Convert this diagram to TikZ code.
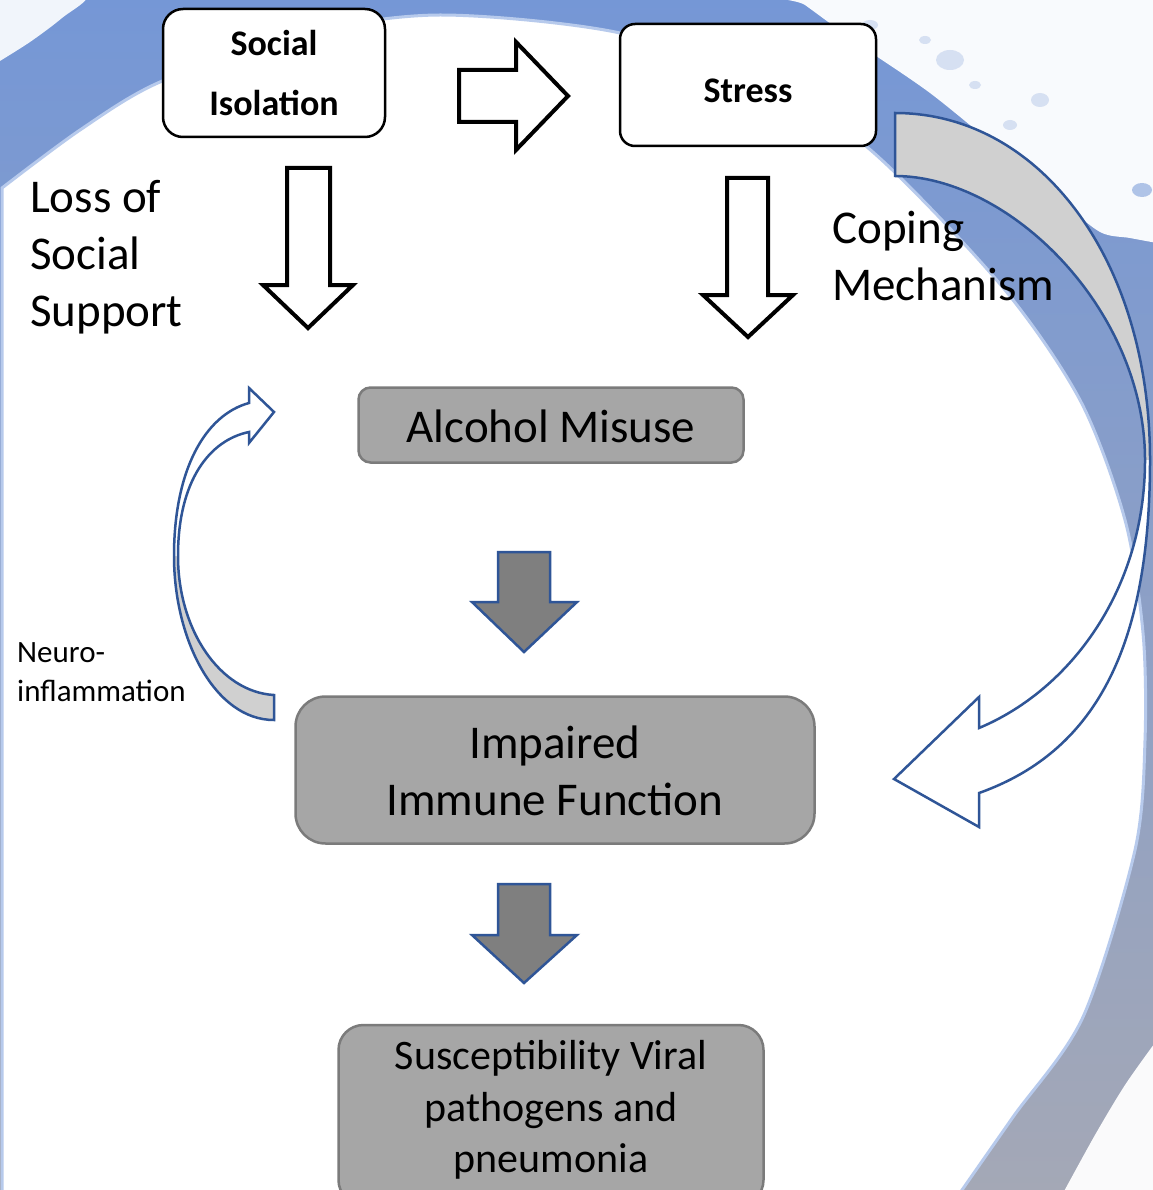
\documentclass[tikz,border=0pt]{standalone}
\usepackage{fontspec}
\setmainfont{Carlito}
\definecolor{bandtop}{HTML}{7597D6}
\definecolor{bandbot}{HTML}{A4A8B6}
\definecolor{paleedge}{HTML}{B7CAEC}
\definecolor{speck}{HTML}{D6E0F2}
\definecolor{boxgray}{HTML}{A6A6A6}
\definecolor{boxedge}{HTML}{7B7B7B}
\definecolor{arrowgray}{HTML}{7F7F7F}
\definecolor{arrowblue}{HTML}{2F5597}
\definecolor{backgray}{HTML}{D0D0D0}
\begin{document}
\begin{tikzpicture}[x=1pt,y=-1pt,
  whitebox/.style={draw=black, line width=2.5pt, fill=white, inner sep=0pt},
  graybox/.style={draw=boxedge, line width=2.5pt, fill=boxgray, inner sep=0pt},
  hollowarrow/.style={draw=black, fill=white, line width=4pt, line join=miter},
  grayarrow/.style={draw=arrowblue, fill=arrowgray, line width=2.5pt, line join=miter},
  curvedline/.style={draw=arrowblue, line width=2.5pt, line join=miter},
  bigtext/.style={font=\fontsize{47}{57}\selectfont, align=left, inner sep=0pt},
  boldtext/.style={font=\fontsize{36}{60}\selectfont\bfseries, align=center, inner sep=0pt},
  boxtext/.style={font=\fontsize{47}{57}\selectfont, align=center, inner sep=0pt},
  smalltext/.style={font=\fontsize{31}{39}\selectfont, align=left, inner sep=0pt}]
\useasboundingbox (0,0) rectangle (1152,1190);
% ---------- background ring ----------
\shade[top color=bandtop, bottom color=bandbot] (-5,-5) rectangle (1157,1195);
% top-right pale splotch
\fill[white!95!bandtop] plot[smooth] coordinates {(1157,-5) (790,-5) (805,5) (860,45) (930,93) (1000,150) (1060,200) (1100,232) (1130,238) (1157,243)} -- cycle;
\fill[speck] (950,60) ellipse (14 and 10);
\fill[speck] (925,40) ellipse (6 and 4);
\fill[speck] (1040,100) ellipse (9 and 7);
\fill[speck] (1010,125) ellipse (7 and 5);
\fill[speck] (975,85) ellipse (6 and 4);
\fill[speck] (870,25) ellipse (8 and 5);
\fill[speck!60!bandtop] (1142,190) ellipse (10 and 7);
% top-left pale splotch
\fill[white!90!bandtop] plot[smooth] coordinates {(-5,-5) (85,-5) (62,18) (30,42) (-5,64)} -- cycle;
% bottom-right pale splotch
\fill[white!94!bandbot] plot[smooth] coordinates {(1157,1040) (1125,1085) (1095,1135) (1062,1195)} -- (1157,1195) -- cycle;
% inner white disc
\filldraw[fill=white, draw=paleedge, line width=3pt]
  (2,1200) -- plot[smooth] coordinates {(2,188) (80,130) (160,82) (300,34) (440,15) (620,33) (760,85) (867,147) (1000,284) (1080,400) (1125,520) (1143,633) (1145,740) (1135,850) (1083,1017) (1013,1117) (955,1200)} -- cycle;
% ---------- boxes ----------
\node[whitebox, rounded corners=20pt, minimum width=222pt, minimum height=128pt] (iso) at (274,73) {};
\node[boldtext] (isotext) at (274,73) {Social\\Isolation};
\node[whitebox, rounded corners=15pt, minimum width=256pt, minimum height=122pt] (stress) at (748,85) {};
\node[boldtext] (stresstext) at (748,91) {Stress};
\node[graybox, rounded corners=12pt, minimum width=385pt, minimum height=75pt] (alc) at (551,425) {};
\node[boxtext] (alctext) at (551,426) {Alcohol Misuse};
\node[graybox, rounded corners=30pt, minimum width=519pt, minimum height=147pt] (imm) at (555,770) {};
\node[boxtext] (immtext) at (555,771) {Impaired\\Immune Function};
\node[graybox, rounded corners=25pt, minimum width=425pt, minimum height=180pt] (sus) at (551,1115) {};
\node[boxtext, font=\fontsize{42}{51.5}\selectfont] (sustext) at (551,1110) {Susceptibility Viral\\pathogens and\\pneumonia};
% ---------- labels ----------
\node[bigtext, anchor=west] (loss) at (30,257) {Loss of\\Social\\Support};
\node[bigtext, anchor=west] (coping) at (832,256) {Coping\\Mechanism};
\node[smalltext, anchor=west] (neuro) at (17,672) {Neuro-\\inflammation};
% ---------- hollow block arrows ----------
\draw[hollowarrow] (459,70) -- (516,70) -- (516,42) -- (568,96) -- (516,150) -- (516,122) -- (459,122) -- cycle;
\draw[hollowarrow] (287,168) -- (330,168) -- (330,285) -- (353,285) -- (308,328) -- (263,285) -- (287,285) -- cycle;
\draw[hollowarrow] (727,178) -- (768,178) -- (768,295) -- (793,295) -- (748,337) -- (703,295) -- (727,295) -- cycle;
% ---------- grey block arrows ----------
\draw[grayarrow] (498,552) -- (550,552) -- (550,602) -- (577,602) -- (524,652) -- (472,602) -- (498,602) -- cycle;
\draw[grayarrow] (498,884) -- (550,884) -- (550,935) -- (577,935) -- (524,983) -- (472,935) -- (498,935) -- cycle;
% ---------- left curved arrow (neuroinflammation) ----------
\fill[backgray] (274,695) -- (274,720) .. controls (215,720) and (174,640) .. (174,556) -- (178,556) .. controls (178,630) and (220,692) .. (274,695) -- cycle;
\fill[white] (174,556) .. controls (174,470) and (205,415) .. (249,403) -- (249,388) -- (274,412) -- (249,443) -- (249,432) .. controls (210,440) and (178,480) .. (178,556) -- cycle;
\draw[curvedline] (249,432) -- (249,443) -- (274,412) -- (249,388) -- (249,403) .. controls (205,415) and (174,470) .. (174,556) .. controls (174,640) and (215,720) .. (274,720) -- (274,695) .. controls (220,692) and (178,630) .. (178,556) .. controls (178,480) and (210,440) .. (249,432) -- cycle;
% ---------- right curved arrow (coping) ----------
\fill[backgray] (895,113) .. controls (1040,113) and (1150,260) .. (1150,460) -- (1145,460) .. controls (1145,310) and (1010,176) .. (895,176) -- cycle;
\fill[white] (1150,460) .. controls (1150,640) and (1100,750) .. (979,793) -- (979,827) -- (894,779) -- (979,697) -- (979,728) .. controls (1070,690) and (1145,590) .. (1145,460) -- cycle;
\draw[curvedline] (979,728) -- (979,697) -- (894,779) -- (979,827) -- (979,793) .. controls (1100,750) and (1150,640) .. (1150,460) .. controls (1150,260) and (1040,113) .. (895,113) -- (895,176) .. controls (1010,176) and (1145,310) .. (1145,460) .. controls (1145,590) and (1070,690) .. (979,728) -- cycle;
\end{tikzpicture}
\end{document}
